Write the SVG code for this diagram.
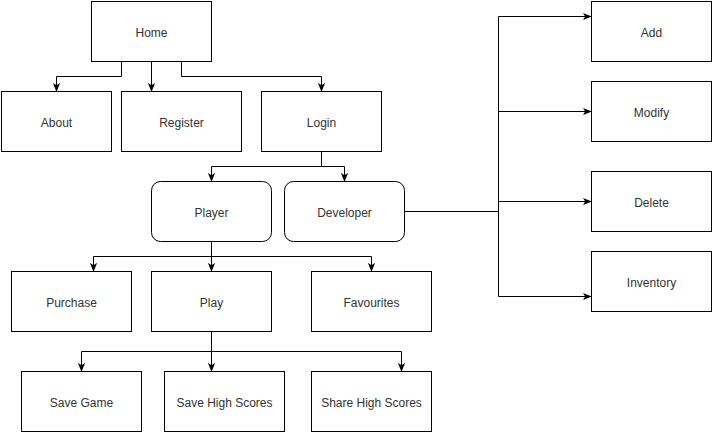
<svg xmlns="http://www.w3.org/2000/svg" width="713" height="433" viewBox="0 0 713 433">
<style>
.box{fill:#ffffff;stroke:#000000;stroke-width:1}
.lbl{font-family:"Liberation Sans",Arial,sans-serif;font-size:12px;fill:#333333;text-anchor:middle;dominant-baseline:central}
.edge{fill:none;stroke:#000000;stroke-width:1;marker-end:url(#arr)}
</style>
<defs>
<marker id="arr" viewBox="0 0 10 10" refX="9" refY="5" markerWidth="9" markerHeight="9" markerUnits="userSpaceOnUse" orient="auto">
<path d="M0,1 L10,5 L0,9 L2.5,5 Z" fill="#000000"/>
</marker>
</defs>
<rect width="713" height="433" fill="#ffffff"/>
<g id="connectors">
<path class="edge" d="M121.5,61.5 V76.5 H56.5 V91"/>
<path class="edge" d="M151.5,61.5 V91"/>
<path class="edge" d="M181.5,61.5 V76.5 H321.5 V91"/>
<path class="edge" d="M321.5,151.5 V166.5 H211.5 V181"/>
<path class="edge" d="M321.5,166.5 H344.5 V181"/>
<path class="edge" d="M211.5,241.5 V256.5 H93.5 V271"/>
<path class="edge" d="M211.5,256.5 V271"/>
<path class="edge" d="M211.5,256.5 H371.5 V271"/>
<path class="edge" d="M211.5,331.5 V351.5 H81.5 V371"/>
<path class="edge" d="M211.5,351.5 V371"/>
<path class="edge" d="M211.5,351.5 H401.5 V371"/>
<path class="edge" d="M404.5,211.5 H498.5 V16.5 H591"/>
<path class="edge" d="M498.5,111.5 H591"/>
<path class="edge" d="M498.5,201.5 H591"/>
<path class="edge" d="M498.5,211.5 V296.5 H591"/>
</g>
<g id="home"><rect class="box" x="91.5" y="1.5" width="120" height="60"/><text class="lbl" x="151.5" y="33">Home</text></g>
<g id="about"><rect class="box" x="1.5" y="91.5" width="110" height="60"/><text class="lbl" x="56.5" y="123">About</text></g>
<g id="register"><rect class="box" x="121.5" y="91.5" width="120" height="60"/><text class="lbl" x="181.5" y="123">Register</text></g>
<g id="login"><rect class="box" x="261.5" y="91.5" width="120" height="60"/><text class="lbl" x="321.5" y="123">Login</text></g>
<g id="player"><rect class="box" x="151.5" y="181.5" width="120" height="60" rx="9" ry="9"/><text class="lbl" x="211.5" y="213">Player</text></g>
<g id="developer"><rect class="box" x="284.5" y="181.5" width="120" height="60" rx="9" ry="9"/><text class="lbl" x="344.5" y="213">Developer</text></g>
<g id="purchase"><rect class="box" x="11.5" y="271.5" width="120" height="60"/><text class="lbl" x="71.5" y="303">Purchase</text></g>
<g id="play"><rect class="box" x="151.5" y="271.5" width="120" height="60"/><text class="lbl" x="211.5" y="303">Play</text></g>
<g id="favourites"><rect class="box" x="311.5" y="271.5" width="120" height="60"/><text class="lbl" x="371.5" y="303">Favourites</text></g>
<g id="savegame"><rect class="box" x="21.5" y="371.5" width="120" height="60"/><text class="lbl" x="81.5" y="403">Save Game</text></g>
<g id="savehighscores"><rect class="box" x="164.5" y="371.5" width="120" height="60"/><text class="lbl" x="224.5" y="403">Save High Scores</text></g>
<g id="sharehighscores"><rect class="box" x="311.5" y="371.5" width="120" height="60"/><text class="lbl" x="371.5" y="403">Share High Scores</text></g>
<g id="add"><rect class="box" x="591.5" y="1.5" width="120" height="60"/><text class="lbl" x="651.5" y="33">Add</text></g>
<g id="modify"><rect class="box" x="591.5" y="81.5" width="120" height="60"/><text class="lbl" x="651.5" y="113">Modify</text></g>
<g id="delete"><rect class="box" x="591.5" y="171.5" width="120" height="60"/><text class="lbl" x="651.5" y="203">Delete</text></g>
<g id="inventory"><rect class="box" x="591.5" y="251.5" width="120" height="60"/><text class="lbl" x="651.5" y="283">Inventory</text></g>
</svg>
